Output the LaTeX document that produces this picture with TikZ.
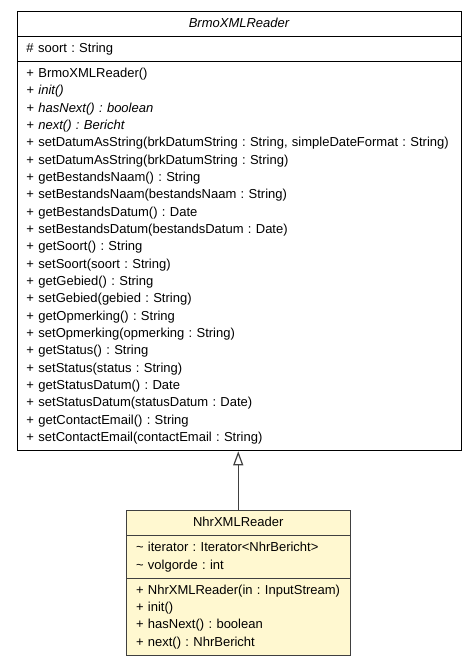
\documentclass[tikz,border=0pt]{standalone}
\usepackage{fontspec}
\setmainfont{Liberation Sans}
\usetikzlibrary{arrows.meta, shapes.multipart}

\definecolor{classfill}{HTML}{FFF8D0}
\definecolor{edgegray}{HTML}{404040}
\frenchspacing
\hyphenpenalty=10000

\begin{document}
\begin{tikzpicture}[
        x=1pt, y=-1pt,
        % Style for the class boxes
        class/.style={draw, rectangle split, rectangle split parts=3, align=left, anchor=north west,
            inner xsep=9.5pt, inner ysep=3.4pt, line width=1pt, font=\fontsize{13}{17.35}\selectfont},
        base/.style={class, fill=white, text width=425pt},
        derived/.style={class, draw=edgegray, fill=classfill, text width=204.5pt},
        % Style for the inheritance arrow
        arrow/.style={-{Triangle[open, length=14pt, width=10pt]}, draw=edgegray, line width=1.2pt}
    ]
    \useasboundingbox (0, 0) rectangle (476, 665);

    % Base class
    \node[base] at (16.5, 10.5) (brmo) {\centering\itshape\strut BrmoXMLReader\par
        \nodepart{two}\strut\# soort : String\strut
        \nodepart{three}\strut + BrmoXMLReader()\\
        {\itshape + init()}\\
        {\itshape + hasNext() : boolean}\\
        {\itshape + next() : Bericht}\\
        + setDatumAsString(brkDatumString : String, simpleDateFormat : String)\\
        + setDatumAsString(brkDatumString : String)\\
        + getBestandsNaam() : String\\
        + setBestandsNaam(bestandsNaam : String)\\
        + getBestandsDatum() : Date\\
        + setBestandsDatum(bestandsDatum : Date)\\
        + getSoort() : String\\
        + setSoort(soort : String)\\
        + getGebied() : String\\
        + setGebied(gebied : String)\\
        + getOpmerking() : String\\
        + setOpmerking(opmerking : String)\\
        + getStatus() : String\\
        + setStatus(status : String)\\
        + getStatusDatum() : Date\\
        + setStatusDatum(statusDatum : Date)\\
        + getContactEmail() : String\\
        + setContactEmail(contactEmail : String)\strut};

    % Derived class
    \node[derived] at (126, 510) (nhr) {\centering\strut NhrXMLReader\par
        \nodepart{two}\strut\textasciitilde{} iterator : Iterator<NhrBericht>\\
        \textasciitilde{} volgorde : int\strut
        \nodepart{three}\strut + NhrXMLReader(in : InputStream)\\
        + init()\\
        + hasNext() : boolean\\
        + next() : NhrBericht\strut};

    % Inheritance
    \draw[arrow] (nhr.north) -- (nhr.north |- brmo.south);
\end{tikzpicture}
\end{document}
